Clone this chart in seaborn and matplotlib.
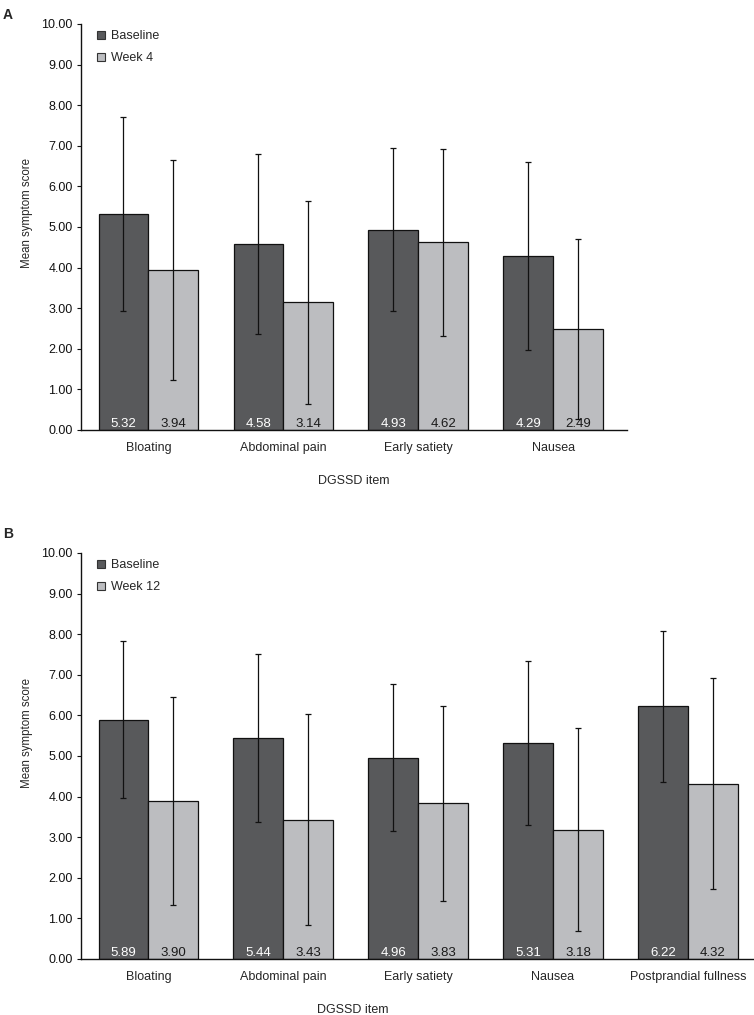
# DGSSD symptom scores, baseline vs follow-up (two panels)

import numpy as np
import pandas as pd
import matplotlib
matplotlib.use('Agg')
import matplotlib.pyplot as plt
from matplotlib.ticker import FormatStrFormatter
import seaborn as sns

sns.set_style('white')
plt.rcParams['font.family'] = ['Liberation Sans', 'DejaVu Sans']

# Panel A data
items_a = ['Bloating', 'Abdominal pain', 'Early satiety', 'Nausea']
baseline_a = [5.32, 4.58, 4.93, 4.29]
baseline_a_sd = [2.40, 2.21, 2.01, 2.31]
week4 = [3.94, 3.14, 4.62, 2.49]
week4_sd = [2.71, 2.49, 2.31, 2.21]

# Panel B data
items_b = ['Bloating', 'Abdominal pain', 'Early satiety', 'Nausea', 'Postprandial fullness']
baseline_b = [5.89, 5.44, 4.96, 5.31, 6.22]
baseline_b_sd = [1.93, 2.07, 1.81, 2.02, 1.85]
week12 = [3.90, 3.43, 3.83, 3.18, 4.32]
week12_sd = [2.56, 2.60, 2.40, 2.50, 2.60]

yticks = np.arange(0, 11, 1)
colors = ['#58595b', '#bcbdc0']
label_colors = ['white', '#1a1a1a']


def draw_panel(ax, items, base, base_sd, follow, follow_sd, follow_name, xmax,
               xlabel_x, ylabel_x, ylabel_y, legend_x):
    n = len(items)
    df = pd.DataFrame({
        'item': items * 2,
        'time': ['Baseline'] * n + [follow_name] * n,
        'score': base + follow,
    })
    sns.barplot(data=df, x='item', y='score', hue='time', palette=colors, saturation=1,
                width=0.74, errorbar=None, edgecolor='#111111', linewidth=0.9, ax=ax)

    # error bars (SD) and value labels at the foot of each bar
    for cont, vals, sds, tc in zip(ax.containers, [base, follow], [base_sd, follow_sd], label_colors):
        xs = [b.get_x() + b.get_width() / 2 for b in cont]
        ax.errorbar(xs, vals, yerr=sds, fmt='none', ecolor='#111111', elinewidth=0.9,
                    capsize=2.5, capthick=0.9, zorder=3)
        for x, v in zip(xs, vals):
            ax.text(x, 0.07, '{:.2f}'.format(v), ha='center', va='baseline', color=tc,
                    fontsize=9.5, zorder=4)

    ax.set_ylim(0, 10)
    ax.set_xlim(-0.5, xmax)
    ax.set_yticks(yticks)
    ax.yaxis.set_major_formatter(FormatStrFormatter('%.2f'))
    ax.tick_params(axis='y', direction='out', length=3, width=0.8, pad=3, labelsize=9,
                   left=True, colors='#111111')
    ax.tick_params(axis='x', length=0, pad=9, labelsize=9)

    ax.set_ylabel('Mean symptom score', fontsize=8.3)
    ax.yaxis.set_label_coords(ylabel_x, ylabel_y)
    ax.set_xlabel('DGSSD item', fontsize=9)
    ax.xaxis.set_label_coords(xlabel_x, -0.112)

    ax.spines['top'].set_visible(False)
    ax.spines['right'].set_visible(False)
    for s in ['left', 'bottom']:
        ax.spines[s].set_color('#111111')
        ax.spines[s].set_linewidth(1.0)

    ax.legend(loc='upper left', bbox_to_anchor=(legend_x, 1.0), frameon=False, fontsize=9,
              handlelength=0.6, handleheight=0.6, handletextpad=0.5, labelspacing=0.8,
              borderaxespad=0.3, borderpad=0.2)
    for h in ax.get_legend().legend_handles:
        h.set_edgecolor('#333333')
        h.set_linewidth(0.8)


fig = plt.figure(figsize=(7.54, 10.15), dpi=100)
ax_a = fig.add_axes([0.1074, 0.5764, 0.7241, 0.4])
ax_b = fig.add_axes([0.1074, 0.0552, 0.8926, 0.4])

draw_panel(ax_a, items_a, baseline_a, baseline_a_sd, week4, week4_sd, 'Week 4',
           3.545, 0.5, -0.088, 0.534, 0.018)
draw_panel(ax_b, items_b, baseline_b, baseline_b_sd, week12, week12_sd, 'Week 12',
           4.49, 0.404, -0.071, 0.557, 0.015)

fig.text(0.004, 0.992, 'A', fontsize=10, fontweight='bold', va='top')
fig.text(0.004, 0.481, 'B', fontsize=10, fontweight='bold', va='top')

fig.savefig('out.png', dpi=100)
